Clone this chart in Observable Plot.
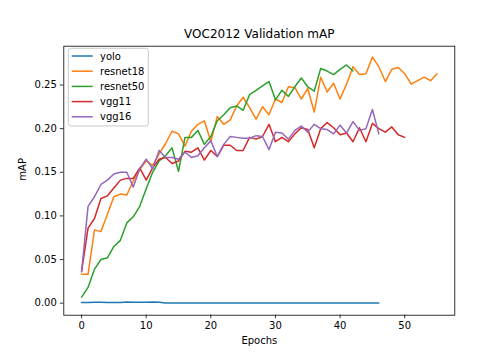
<!DOCTYPE html>
<html>
<head>
<meta charset="utf-8">
<script src="https://cdn.jsdelivr.net/npm/d3@7"></script>
<script src="https://cdn.jsdelivr.net/npm/@observablehq/plot@0.6"></script>
<style>
  html, body { margin: 0; padding: 0; background: white; }
  svg { display: block; }
</style>
</head>
<body>
<div id="chart"></div>
<script>
const titleText = "VOC2012 Validation mAP";
const xLabel = "Epochs";
const yLabel = "mAP";
const models = ["yolo", "resnet18", "resnet50", "vgg11", "vgg16"];
const colors = ["#1f77b4", "#ff7f0e", "#2ca02c", "#d62728", "#9467bd"];
const xTicks = [0, 10, 20, 30, 40, 50];
const yTicks = [0, 0.05, 0.10, 0.15, 0.20, 0.25];

const yolo = [0.0008, 0.0008, 0.0009, 0.0010, 0.0008, 0.0007, 0.0007, 0.0012, 0.0009, 0.0010,
  0.0011, 0.0012, 0.0010, 0.0001, 0.0001, 0.0001, 0.0001, 0.0001, 0.0001, 0.0001,
  0.0001, 0.0001, 0.0001, 0.0001, 0.0001, 0.0001, 0.0001, 0.0001, 0.0001, 0.0001,
  0.0001, 0.0001, 0.0001, 0.0001, 0.0001, 0.0001, 0.0001, 0.0001, 0.0001, 0.0001,
  0.0001, 0.0001, 0.0001, 0.0001, 0.0001, 0.0001, 0.0001];
const resnet18 = [0.033, 0.033, 0.084, 0.082, 0.102, 0.122, 0.125, 0.124, 0.140, 0.153,
  0.163, 0.158, 0.171, 0.183, 0.197, 0.194, 0.180, 0.197, 0.205, 0.209,
  0.185, 0.214, 0.205, 0.210, 0.226, 0.236, 0.224, 0.211, 0.225, 0.216,
  0.234, 0.230, 0.248, 0.247, 0.234, 0.246, 0.219, 0.259, 0.242, 0.252,
  0.234, 0.251, 0.271, 0.262, 0.263, 0.282, 0.271, 0.254, 0.268, 0.270,
  0.263, 0.251, 0.255, 0.259, 0.255, 0.263];
const resnet50 = [0.007, 0.018, 0.039, 0.050, 0.052, 0.065, 0.072, 0.092, 0.099, 0.111,
  0.131, 0.150, 0.163, 0.169, 0.178, 0.151, 0.190, 0.190, 0.198, 0.182,
  0.191, 0.209, 0.216, 0.224, 0.226, 0.221, 0.239, 0.244, 0.249, 0.254,
  0.233, 0.244, 0.237, 0.248, 0.258, 0.248, 0.243, 0.269, 0.266, 0.262,
  0.268, 0.273, 0.266];
const vgg11 = [0.036, 0.086, 0.097, 0.120, 0.123, 0.132, 0.141, 0.143, 0.143, 0.155,
  0.141, 0.155, 0.165, 0.167, 0.160, 0.163, 0.174, 0.173, 0.178, 0.164,
  0.175, 0.168, 0.181, 0.181, 0.175, 0.175, 0.190, 0.188, 0.191, 0.205,
  0.185, 0.190, 0.185, 0.194, 0.201, 0.199, 0.178, 0.200, 0.207, 0.201,
  0.193, 0.195, 0.185, 0.201, 0.185, 0.206, 0.200, 0.196, 0.202, 0.193,
  0.190];
const vgg16 = [0.036, 0.111, 0.122, 0.136, 0.141, 0.148, 0.150, 0.150, 0.133, 0.154,
  0.165, 0.154, 0.175, 0.167, 0.167, 0.165, 0.173, 0.167, 0.169, 0.178,
  0.186, 0.168, 0.182, 0.191, 0.190, 0.189, 0.189, 0.192, 0.191, 0.176,
  0.196, 0.195, 0.188, 0.198, 0.203, 0.196, 0.205, 0.200, 0.199, 0.194,
  0.204, 0.195, 0.208, 0.198, 0.200, 0.222, 0.194];

const seriesList = [yolo, resnet18, resnet50, vgg11, vgg16];
const rows = [];
seriesList.forEach((s, i) => s.forEach((v, e) => rows.push({model: models[i], epoch: e, value: v})));

const font = "DejaVu Sans, Liberation Sans, sans-serif";

const chart = Plot.plot({
  width: 504,
  height: 360,
  marginLeft: 63.3,
  marginRight: 49.7,
  marginTop: 45.7,
  marginBottom: 45.3,
  style: {fontFamily: font, fontSize: "10px", color: "black", background: "white"},
  x: {domain: [-2.75, 57.75]},
  y: {domain: [-0.0138, 0.2945]},
  color: {domain: models, range: colors},
  marks: [
    Plot.axisX({ticks: xTicks, tickSize: 3.5, tickPadding: 3.5, strokeWidth: 0.8, label: null, fontSize: 10}),
    Plot.axisY({ticks: yTicks, tickSize: 3.5, tickPadding: 3.5, strokeWidth: 0.8, tickFormat: d3.format(".2f"), label: null, fontSize: 10}),
    Plot.line(rows, {x: "epoch", y: "value", z: "model", stroke: "model", strokeWidth: 1.5}),
    Plot.frame({stroke: "black", strokeWidth: 0.8}),
    Plot.text([titleText], {frameAnchor: "top", lineAnchor: "middle", dy: -12.5, fontSize: 12, fill: "black"}),
    Plot.text([xLabel], {frameAnchor: "bottom", lineAnchor: "middle", dy: 25.4, fontSize: 10, fill: "black"}),
    Plot.text([yLabel], {frameAnchor: "left", lineAnchor: "middle", rotate: -90, dx: -41, fontSize: 10, fill: "black"})
  ]
});

document.getElementById("chart").appendChild(chart);

// legend (upper left, matplotlib style)
const svg = d3.select(chart);
const lg = svg.append("g").attr("font-family", font).attr("font-size", 10).attr("text-anchor", "start");
lg.append("rect")
  .attr("x", 68.3).attr("y", 48.3).attr("width", 80).attr("height", 77.7)
  .attr("rx", 2.5).attr("fill", "white").attr("fill-opacity", 0.8)
  .attr("stroke", "#c8c8c8").attr("stroke-width", 1);
models.forEach((m, i) => {
  const yy = 56 + i * 15.2;
  lg.append("line").attr("x1", 71.7).attr("x2", 92.7).attr("y1", yy).attr("y2", yy)
    .attr("stroke", colors[i]).attr("stroke-width", 1.5);
  lg.append("text").attr("x", 100).attr("y", yy).attr("dy", "0.35em")
    .attr("text-anchor", "start").attr("fill", "black").text(m);
});
</script>
</body>
</html>
